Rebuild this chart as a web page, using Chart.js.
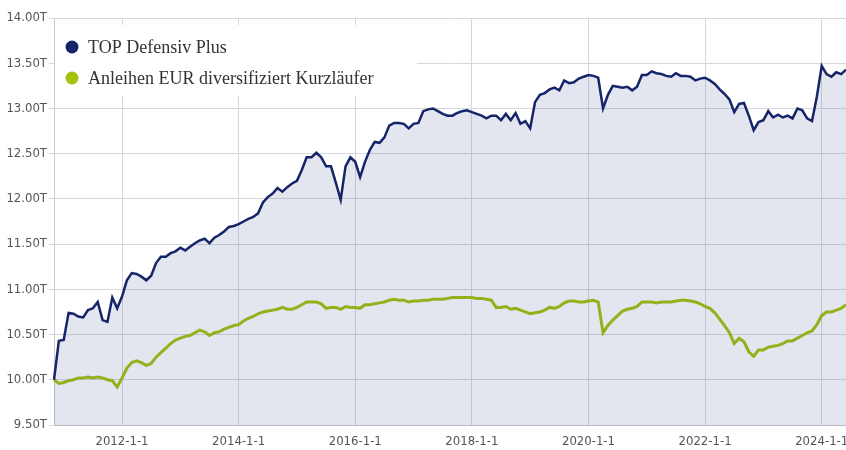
<!DOCTYPE html>
<html>
<head>
<meta charset="utf-8">
<script src="https://cdn.jsdelivr.net/npm/chart.js@4.4.1/dist/chart.umd.min.js"></script>
<style>
  html, body { margin: 0; padding: 0; background: #fff; }
  #wrap { position: relative; width: 846px; height: 450px; }
</style>
</head>
<body>
<div id="wrap"><canvas id="chart" width="846" height="450"></canvas></div>
<script>
// ---- data (monthly, Nov 2010 .. Jun 2024) ----
const seriesNames = ['TOP Defensiv Plus', 'Anleihen EUR diversifiziert Kurzläufer'];
const startYear = 2010, startMonth = 11;
const xTickYears = [2012, 2014, 2016, 2018, 2020, 2022, 2024];

const topDefensiv = [
  10.00, 10.43, 10.44, 10.74, 10.73, 10.70, 10.69, 10.77, 10.79, 10.86,
  10.66, 10.64, 10.91, 10.79, 10.92, 11.10, 11.18, 11.17, 11.14, 11.10,
  11.15, 11.29, 11.36, 11.36, 11.40, 11.42, 11.46, 11.43, 11.47, 11.51,
  11.54, 11.56, 11.51, 11.57, 11.60, 11.64, 11.69, 11.70, 11.72, 11.75,
  11.78, 11.80, 11.84, 11.96, 12.02, 12.06, 12.12, 12.08, 12.13, 12.17,
  12.20, 12.32, 12.46, 12.46, 12.51, 12.46, 12.36, 12.36, 12.18, 11.99,
  12.36, 12.46, 12.41, 12.24, 12.41, 12.54, 12.63, 12.62, 12.68, 12.81,
  12.84, 12.84, 12.83, 12.78, 12.83, 12.84, 12.97, 12.99, 13.00, 12.97,
  12.94, 12.92, 12.92, 12.95, 12.97, 12.98, 12.96, 12.94, 12.92, 12.89,
  12.92, 12.92, 12.87, 12.94, 12.87, 12.95, 12.83, 12.86, 12.78, 13.07,
  13.15, 13.17, 13.21, 13.23, 13.20, 13.31, 13.28, 13.29, 13.33, 13.35,
  13.37, 13.36, 13.34, 13.00, 13.15, 13.25, 13.24, 13.23, 13.24, 13.20,
  13.24, 13.37, 13.37, 13.41, 13.39, 13.38, 13.36, 13.35, 13.39, 13.36,
  13.36, 13.35, 13.31, 13.33, 13.34, 13.31, 13.27, 13.21, 13.16, 13.10,
  12.96, 13.05, 13.06, 12.92, 12.76, 12.85, 12.87, 12.97, 12.90, 12.93,
  12.90, 12.92, 12.89, 13.00, 12.98, 12.89, 12.86, 13.13, 13.47, 13.38,
  13.35, 13.40, 13.38, 13.43
];

const anleihenKurz = [
  10.00, 9.96, 9.97, 9.99, 10.00, 10.02, 10.02, 10.03, 10.02, 10.03,
  10.02, 10.00, 9.99, 9.92, 10.02, 10.13, 10.19, 10.21, 10.19, 10.16,
  10.18, 10.25, 10.30, 10.35, 10.40, 10.44, 10.46, 10.48, 10.49, 10.52,
  10.55, 10.53, 10.49, 10.52, 10.53, 10.56, 10.58, 10.60, 10.61, 10.65,
  10.68, 10.70, 10.73, 10.75, 10.76, 10.77, 10.78, 10.80, 10.78, 10.78,
  10.80, 10.83, 10.86, 10.86, 10.86, 10.84, 10.79, 10.80, 10.80, 10.78,
  10.81, 10.80, 10.80, 10.79, 10.83, 10.83, 10.84, 10.85, 10.86, 10.88,
  10.89, 10.88, 10.88, 10.86, 10.87, 10.87, 10.88, 10.88, 10.89, 10.89,
  10.89, 10.90, 10.91, 10.91, 10.91, 10.91, 10.91, 10.90, 10.90, 10.89,
  10.88, 10.80, 10.80, 10.81, 10.78, 10.79, 10.77, 10.75, 10.73, 10.74,
  10.75, 10.77, 10.80, 10.79, 10.81, 10.85, 10.87, 10.87, 10.86, 10.86,
  10.87, 10.88, 10.86, 10.52, 10.60, 10.66, 10.71, 10.76, 10.78, 10.79,
  10.81, 10.86, 10.86, 10.86, 10.85, 10.86, 10.86, 10.86, 10.87, 10.88,
  10.88, 10.87, 10.86, 10.84, 10.81, 10.79, 10.74, 10.67, 10.60, 10.52,
  10.40, 10.46, 10.42, 10.31, 10.26, 10.33, 10.33, 10.36, 10.37, 10.38,
  10.40, 10.43, 10.43, 10.46, 10.49, 10.52, 10.54, 10.61, 10.71, 10.75,
  10.75, 10.77, 10.79, 10.83
];

// month labels "YYYY-M"
const monthLabels = topDefensiv.map((_, i) => {
  const m = startMonth - 1 + i;
  return (startYear + Math.floor(m / 12)) + '-' + (m % 12 + 1);
});

// ---- styles ----
const blue = '#16256a';
const green = '#a6c20e';
const gridColor = '#d6d8de';
const tickFont = { family: '"Liberation Sans Narrow", "DejaVu Sans Condensed", sans-serif', size: 13 };

function xTickText(label) {
  const [y, m] = label.split('-').map(Number);
  return (m === 1 && xTickYears.includes(y)) ? y + '-1-1' : '';
}

// legend drawn inside the plot, top-left, on a white box
const innerLegend = {
  id: 'innerLegend',
  beforeDatasetsDraw(chart) {
    const ctx = chart.ctx;
    const a = chart.chartArea;
    ctx.save();
    ctx.fillStyle = '#fff';
    ctx.fillRect(a.left + 1, 25, 362, 71);
    ctx.font = '18px "Liberation Serif", "Times New Roman", serif';
    ctx.textBaseline = 'middle';
    chart.data.datasets.forEach((ds, i) => {
      const y = 47 + i * 31;
      ctx.fillStyle = ds.borderColor;
      ctx.beginPath();
      ctx.arc(72, y, 6.5, 0, Math.PI * 2);
      ctx.fill();
      ctx.fillStyle = '#333';
      ctx.fillText(ds.label, 88, y + 1);
    });
    ctx.restore();
  }
};

new Chart(document.getElementById('chart').getContext('2d'), {
  type: 'line',
  data: {
    labels: monthLabels,
    datasets: [
      {
        label: seriesNames[0],
        data: topDefensiv,
        borderColor: blue,
        backgroundColor: 'rgba(22, 47, 122, 0.12)',
        borderWidth: 2.5,
        fill: 'start',
        pointRadius: 0,
        tension: 0
      },
      {
        label: seriesNames[1],
        data: anleihenKurz,
        borderColor: green,
        borderWidth: 3,
        fill: false,
        pointRadius: 0,
        tension: 0
      }
    ]
  },
  options: {
    responsive: false,
    animation: false,
    events: [],
    layout: { padding: { top: 18, right: 0, left: 0, bottom: 0 } },
    plugins: {
      legend: { display: false },
      tooltip: { enabled: false }
    },
    scales: {
      x: {
        type: 'category',
        offset: false,
        afterFit: s => { s.height = 25; s.paddingLeft = 0; s.paddingRight = 0; },
        border: { color: '#b9bcc4', width: 1 },
        grid: {
          drawTicks: false,
          color: c => (c.tick && c.tick.label !== '') ? gridColor : 'rgba(0,0,0,0)'
        },
        ticks: {
          autoSkip: false,
          maxRotation: 0,
          padding: 9,
          color: '#555',
          font: tickFont,
          callback: function (v) { return xTickText(this.getLabelForValue(v)); }
        }
      },
      y: {
        min: 9.5,
        max: 14,
        afterFit: s => { s.width = 54; },
        border: { color: '#c8cad0', width: 1 },
        grid: { color: gridColor, tickLength: 5 },
        ticks: {
          stepSize: 0.5,
          padding: 2,
          color: '#555',
          font: tickFont,
          callback: v => v.toFixed(2) + 'T'
        }
      }
    }
  },
  plugins: [innerLegend]
});
</script>
</body>
</html>
